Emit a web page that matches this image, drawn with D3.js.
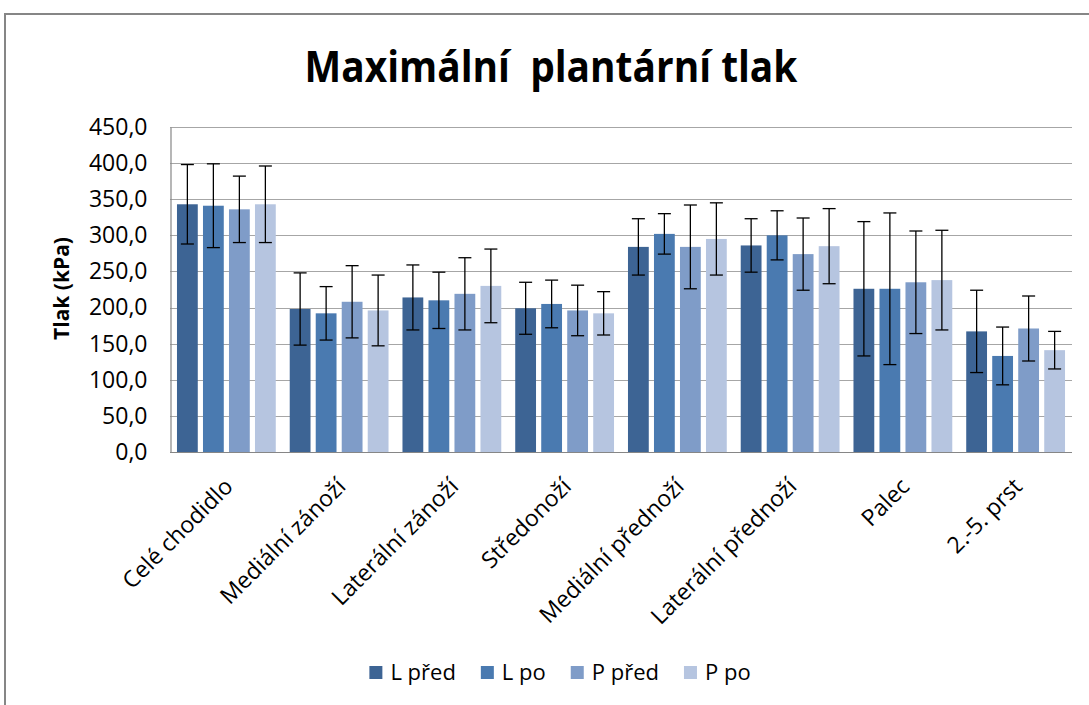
<!DOCTYPE html>
<html>
<head>
<meta charset="utf-8">
<script src="https://cdn.jsdelivr.net/npm/d3@7"></script>
<style>
  html, body { margin: 0; padding: 0; background: #ffffff; }
  svg { display: block; }
  text { font-family: "Open Sans", "Noto Sans", sans-serif; fill: #000; }
</style>
</head>
<body>
<svg id="chart" width="1089" height="705"></svg>
<script>
// ---- data ----
const categories = ["Celé chodidlo", "Mediální zánoží", "Laterální zánoží", "Středonoží",
                    "Mediální přednoží", "Laterální přednoží", "Palec", "2.-5. prst"];
const seriesNames = ["L před", "L po", "P před", "P po"];
const lPred    = [343, 198, 214, 199, 284, 286, 226, 167];
const lPredErr = [55, 50, 45, 36, 39, 37, 93, 57];
const lPo      = [341, 192, 210, 205, 302, 300, 226, 133];
const lPoErr   = [58, 37, 39, 33, 28, 34, 105, 40];
const pPred    = [336, 208, 219, 196, 284, 274, 235, 171];
const pPredErr = [46, 50, 50, 35, 58, 50, 71, 45];
const pPo      = [343, 196, 230, 192, 295, 285, 238, 141];
const pPoErr   = [53, 49, 51, 30, 50, 52, 69, 26];
const yTicks   = [0, 50, 100, 150, 200, 250, 300, 350, 400, 450];
const colors   = ["#3d6494", "#4a7ab0", "#7f9cc8", "#b6c5e0"];
const titleText = "Maximální  plantární tlak";
const yTitle = "Tlak (kPa)";

const values = [lPred, lPo, pPred, pPo];
const errors = [lPredErr, lPoErr, pPredErr, pPoErr];

// ---- layout ----
const svg = d3.select("#chart");
const plotL = 170, plotR = 1072, plotT = 127, plotB = 452;

// outer chart border
svg.append("rect").attr("x", 5).attr("y", 14).attr("width", 1100).attr("height", 720)
  .attr("fill", "none").attr("stroke", "#868686").attr("stroke-width", 2);

const x0 = d3.scaleBand().domain(categories).range([plotL, plotR]).padding(0);
const B = x0.bandwidth();
const x1 = d3.scaleBand().domain(seriesNames).range([B / 2 - 52, B / 2 + 52])
  .paddingInner(0.2).paddingOuter(0.1);
const y = d3.scaleLinear().domain([0, 450]).range([plotB, plotT]);

const locale = d3.formatLocale({ decimal: ",", thousands: " ", grouping: [3], currency: ["", ""] });
const fmt = locale.format(".1f");

// gridlines
svg.append("g").selectAll("line").data(yTicks.filter(d => d > 0)).join("line")
  .attr("x1", plotL).attr("x2", plotR)
  .attr("y1", d => Math.round(y(d)) + 0.5).attr("y2", d => Math.round(y(d)) + 0.5)
  .attr("stroke", "#a6a6a6").attr("stroke-width", 1.2);

// y axis
const yAxis = d3.axisLeft(y).tickValues(yTicks).tickFormat(fmt).tickSize(0).tickPadding(23);
const gy = svg.append("g").attr("transform", `translate(${plotL + 0.5},0)`).call(yAxis);
gy.select(".domain").attr("stroke", "#868686").attr("stroke-width", 1.2);
gy.selectAll("text").style("font-size", "23px").style("font-family", "'Open Sans', sans-serif")
  .attr("fill", "#222");

// bars
const data = categories.map((c, i) => ({
  cat: c,
  items: seriesNames.map((s, j) => ({ s, j, v: values[j][i], e: errors[j][i] }))
}));

const groups = svg.append("g").selectAll("g").data(data).join("g")
  .attr("transform", d => `translate(${x0(d.cat)},0)`);

groups.selectAll("rect").data(d => d.items).join("rect")
  .attr("x", d => x1(d.s)).attr("width", x1.bandwidth())
  .attr("y", d => y(d.v)).attr("height", d => y(0) - y(d.v))
  .attr("fill", d => colors[d.j]);

// error bars
const cap = 6.5;
const eb = groups.selectAll("g.err").data(d => d.items).join("g").attr("class", "err")
  .attr("stroke", "#000").attr("stroke-width", 1.3);
eb.append("line")
  .attr("x1", d => x1(d.s) + x1.bandwidth() / 2).attr("x2", d => x1(d.s) + x1.bandwidth() / 2)
  .attr("y1", d => y(d.v + d.e)).attr("y2", d => y(d.v - d.e));
eb.append("line")
  .attr("x1", d => x1(d.s) + x1.bandwidth() / 2 - cap).attr("x2", d => x1(d.s) + x1.bandwidth() / 2 + cap)
  .attr("y1", d => y(d.v + d.e)).attr("y2", d => y(d.v + d.e));
eb.append("line")
  .attr("x1", d => x1(d.s) + x1.bandwidth() / 2 - cap).attr("x2", d => x1(d.s) + x1.bandwidth() / 2 + cap)
  .attr("y1", d => y(d.v - d.e)).attr("y2", d => y(d.v - d.e));

// x axis line
svg.append("line").attr("x1", plotL).attr("x2", plotR)
  .attr("y1", plotB + 0.5).attr("y2", plotB + 0.5)
  .attr("stroke", "#868686").attr("stroke-width", 1.2);

// x labels rotated
svg.append("g").selectAll("text").data(categories).join("text")
  .attr("transform", d => `translate(${x0(d) + B / 2 + 8},${plotB + 36}) rotate(-45)`)
  .attr("text-anchor", "end")
  .style("font-size", "23px")
  .attr("fill", "#111")
  .text(d => d);

// y title
svg.append("text")
  .attr("transform", `translate(69,${(plotT + plotB) / 2 - 1}) rotate(-90)`)
  .attr("text-anchor", "middle")
  .style("font-size", "21px").style("font-weight", "bold")
  .text(yTitle);

// chart title (narrowed to mimic the condensed original face)
const title = svg.append("text")
  .attr("text-anchor", "middle")
  .attr("xml:space", "preserve")
  .style("white-space", "pre")
  .style("font-size", "43px").style("font-weight", "bold")
  .text(titleText);
const tl = title.node().getComputedTextLength();
const sx = 493 / tl;
title.attr("transform", `translate(551,82) scale(${sx},1)`);

// legend
const legend = svg.append("g");
let lx = 0;
const items = legend.selectAll("g").data(seriesNames).join("g");
items.append("rect").attr("width", 13).attr("height", 13).attr("y", -14)
  .attr("fill", (d, i) => colors[i]);
items.append("text").attr("x", 21).attr("y", 0).style("font-size", "22px").attr("fill", "#111").text(d => d);
items.each(function () {
  const g = d3.select(this);
  g.attr("transform", `translate(${lx},0)`);
  lx += 21 + g.select("text").node().getComputedTextLength() + 25;
});
const totalW = lx - 25;
legend.attr("transform", `translate(${560 - totalW / 2},680)`);
</script>
</body>
</html>
